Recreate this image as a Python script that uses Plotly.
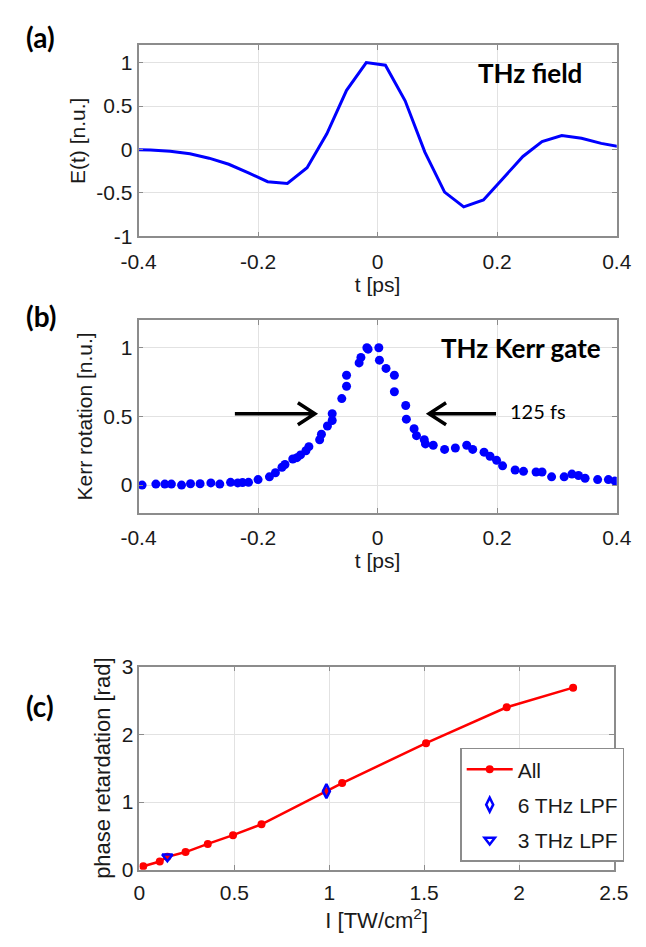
import plotly.graph_objects as go

# ---- Panel (a): THz field ----
t_field = [-0.413, -0.380, -0.347, -0.314, -0.282, -0.249, -0.216, -0.184, -0.151, -0.118,
           -0.085, -0.052, -0.019, 0.013, 0.046, 0.079, 0.112, 0.144, 0.177, 0.210,
           0.243, 0.275, 0.308, 0.341, 0.374, 0.407]
e_field = [0.0, -0.005, -0.02, -0.05, -0.10, -0.17, -0.27, -0.37, -0.39, -0.21,
           0.18, 0.68, 1.0, 0.97, 0.56, -0.03, -0.49, -0.66, -0.58, -0.33,
           -0.08, 0.09, 0.16, 0.13, 0.07, 0.03]

# ---- Panel (b): THz Kerr gate ----
t_kerr = [-0.394, -0.371, -0.356, -0.345, -0.328, -0.313, -0.297, -0.279, -0.264, -0.246,
          -0.234, -0.226, -0.216, -0.200, -0.181, -0.171, -0.160, -0.155, -0.142, -0.135,
          -0.129, -0.120, -0.115, -0.097, -0.094, -0.084, -0.076, -0.076, -0.060, -0.052,
          -0.052, -0.031, -0.028, -0.018, -0.016, 0.002, 0.003, 0.014, 0.028, 0.028,
          0.047, 0.048, 0.061, 0.065, 0.078, 0.080, 0.093, 0.112, 0.130, 0.149,
          0.159, 0.178, 0.188, 0.199, 0.209, 0.230, 0.244, 0.265, 0.275, 0.291,
          0.312, 0.325, 0.336, 0.347, 0.368, 0.386, 0.397]
kerr = [0.0, 0.007, 0.007, 0.007, 0.0, 0.01, 0.01, 0.016, 0.007, 0.02,
        0.016, 0.018, 0.02, 0.04, 0.06, 0.09, 0.13, 0.15, 0.19, 0.20,
        0.22, 0.25, 0.28, 0.33, 0.37, 0.43, 0.47, 0.52, 0.63, 0.72,
        0.80, 0.89, 0.93, 1.0, 0.99, 1.0, 0.91, 0.85, 0.80, 0.68,
        0.58, 0.48, 0.41, 0.36, 0.33, 0.30, 0.29, 0.26, 0.27, 0.29,
        0.26, 0.24, 0.21, 0.18, 0.14, 0.11, 0.10, 0.095, 0.095, 0.06,
        0.06, 0.08, 0.07, 0.05, 0.04, 0.04, 0.03]

# ---- Panel (c): phase retardation ----
I_all = [0.02, 0.107, 0.147, 0.243, 0.36, 0.493, 0.643, 0.985, 1.068, 1.51, 1.935, 2.285]
phi_all = [0.05, 0.12, 0.19, 0.26, 0.38, 0.51, 0.67, 1.16, 1.28, 1.87, 2.40, 2.69]
I_6thz = [0.985]
phi_6thz = [1.16]
I_3thz = [0.147]
phi_3thz = [0.19]

W, H = 646, 947
BLUE = "#0000FF"
RED = "#FF0000"
FONT = "Liberation Sans"
TXT = "#1a1a1a"

fig = go.Figure()
fig.add_trace(go.Scatter(x=t_field, y=e_field, mode="lines",
                         line=dict(color=BLUE, width=3), showlegend=False,
                         xaxis="x", yaxis="y"))
fig.add_trace(go.Scatter(x=t_kerr, y=kerr, mode="markers",
                         marker=dict(color=BLUE, size=9), showlegend=False,
                         xaxis="x2", yaxis="y2"))
fig.add_trace(go.Scatter(x=I_all, y=phi_all, mode="lines+markers", name="All",
                         legendgroup="g1",
                         line=dict(color=RED, width=2.5),
                         marker=dict(color=RED, size=8, symbol="circle"),
                         xaxis="x3", yaxis="y3"))
fig.add_trace(go.Scatter(x=I_6thz, y=phi_6thz, mode="markers", name="6 THz LPF",
                         legendgroup="g2",
                         marker=dict(color=BLUE, size=10, symbol="diamond-tall-open",
                                     line=dict(width=2.5, color=BLUE)),
                         xaxis="x3", yaxis="y3"))
fig.add_trace(go.Scatter(x=I_3thz, y=phi_3thz, mode="markers", name="3 THz LPF",
                         legendgroup="g3",
                         marker=dict(color=BLUE, size=9, symbol="triangle-down-open",
                                     line=dict(width=2.5, color=BLUE)),
                         xaxis="x3", yaxis="y3"))

def px_x(a, b):
    return [a / W, b / W]

def px_y(top, bot):
    return [1 - bot / H, 1 - top / H]

axis_common = dict(showline=True, linecolor="#8c8c8c", linewidth=1.5, mirror="ticks",
                   ticks="inside", ticklen=5, tickcolor="#8c8c8c", showgrid=True,
                   gridcolor="#e2e2e2", gridwidth=1, zeroline=False,
                   tickfont=dict(family=FONT, size=21, color=TXT))
title_font = dict(family=FONT, size=21, color=TXT)

t_ticks = [-0.4, -0.2, 0, 0.2, 0.4]
t_text = ["-0.4", "-0.2", "0", "0.2", "0.4"]

fig.update_layout(
    width=W, height=H, margin=dict(l=0, r=0, t=0, b=0),
    paper_bgcolor="white", plot_bgcolor="white",
    xaxis=dict(domain=px_x(127, 631), range=[-0.4, 0.4], tickvals=t_ticks, ticktext=t_text,
               ticklabelstandoff=6,
               title=dict(text="t [ps]", font=title_font, standoff=5), anchor="y", **axis_common),
    yaxis=dict(domain=px_y(34, 230), range=[-1, 1.2],
               tickvals=[-1, -0.5, 0, 0.5, 1], ticktext=["-1", "-0.5", "0", "0.5", "1"],
               title=dict(text="E(t) [n.u.]", font=title_font, standoff=5), anchor="x", **axis_common),
    xaxis2=dict(domain=px_x(127, 631), range=[-0.4, 0.4], tickvals=t_ticks, ticktext=t_text,
                ticklabelstandoff=6,
                title=dict(text="t [ps]", font=title_font, standoff=5), anchor="y2", **axis_common),
    yaxis2=dict(domain=px_y(316, 513), range=[-0.2, 1.2],
                tickvals=[0, 0.5, 1], ticktext=["0", "0.5", "1"],
                title=dict(text="Kerr rotation [n.u.]", font=title_font, standoff=5), anchor="x2", **axis_common),
    xaxis3=dict(domain=px_x(128, 628), range=[0, 2.5],
                tickvals=[0, 0.5, 1, 1.5, 2, 2.5], ticktext=["0", "0.5", "1", "1.5", "2", "2.5"],
                ticklabelstandoff=3,
                title=dict(text="I [TW/cm<sup>2</sup>]", font=dict(family=FONT, size=22, color=TXT), standoff=10),
                anchor="y3", **axis_common),
    yaxis3=dict(domain=px_y(671, 879), range=[0, 3],
                tickvals=[0, 1, 2, 3], ticktext=["0", "1", "2", "3"],
                title=dict(text="phase retardation [rad]", font=dict(family=FONT, size=22, color=TXT), standoff=5),
                anchor="x3", **axis_common),
    legend=dict(x=466 / W, y=1 - 754 / H, xanchor="left", yanchor="top",
                bgcolor="white", bordercolor="#8c8c8c", borderwidth=1.5,
                font=dict(family=FONT, size=21, color=TXT),
                traceorder="grouped", tracegroupgap=5, itemwidth=46),
)

ann = []
for label, ytop in [("(a)", 6), ("(b)", 292), ("(c)", 692)]:
    ann.append(dict(text="<b>" + label + "</b>", x=6 / W, y=1 - ytop / H, xref="paper", yref="paper",
                    xanchor="left", yanchor="top", showarrow=False,
                    font=dict(family="Lato", size=28, color="black")))
ann.append(dict(text="<b>THz field</b>", x=0.4 - (631 - 596) * 0.8 / 504, y=0.88, xref="x", yref="y",
                xanchor="right", yanchor="middle", showarrow=False,
                font=dict(family="Lato", size=26, color="black")))
ann.append(dict(text="<b>THz Kerr gate</b>", x=0.4 - (631 - 616) * 0.8 / 504, y=1.0, xref="x2", yref="y2",
                xanchor="right", yanchor="middle", showarrow=False,
                font=dict(family="Lato", size=26, color="black")))
ann.append(dict(text="125 fs", x=0.218, y=0.54, xref="x2", yref="y2",
                xanchor="left", yanchor="middle", showarrow=False,
                font=dict(family="Lato", size=20, color="black")))
fig.update_layout(annotations=ann)

# FWHM arrows (drawn as pixel-sized paths anchored at their heads)
fig.add_shape(type="path", xref="x2", yref="y2", xsizemode="pixel", ysizemode="pixel",
              xanchor=-0.105, yanchor=0.52, path="M-80,0 L-3,0 M-17,-11 L0,0 L-17,11",
              line=dict(color="black", width=3.5))
fig.add_shape(type="path", xref="x2", yref="y2", xsizemode="pixel", ysizemode="pixel",
              xanchor=0.086, yanchor=0.52, path="M67,0 L3,0 M17,-11 L0,0 L17,11",
              line=dict(color="black", width=3.5))

fig.write_html("out.html", config={"displayModeBar": False},
               post_script="document.body.style.margin='0';")
